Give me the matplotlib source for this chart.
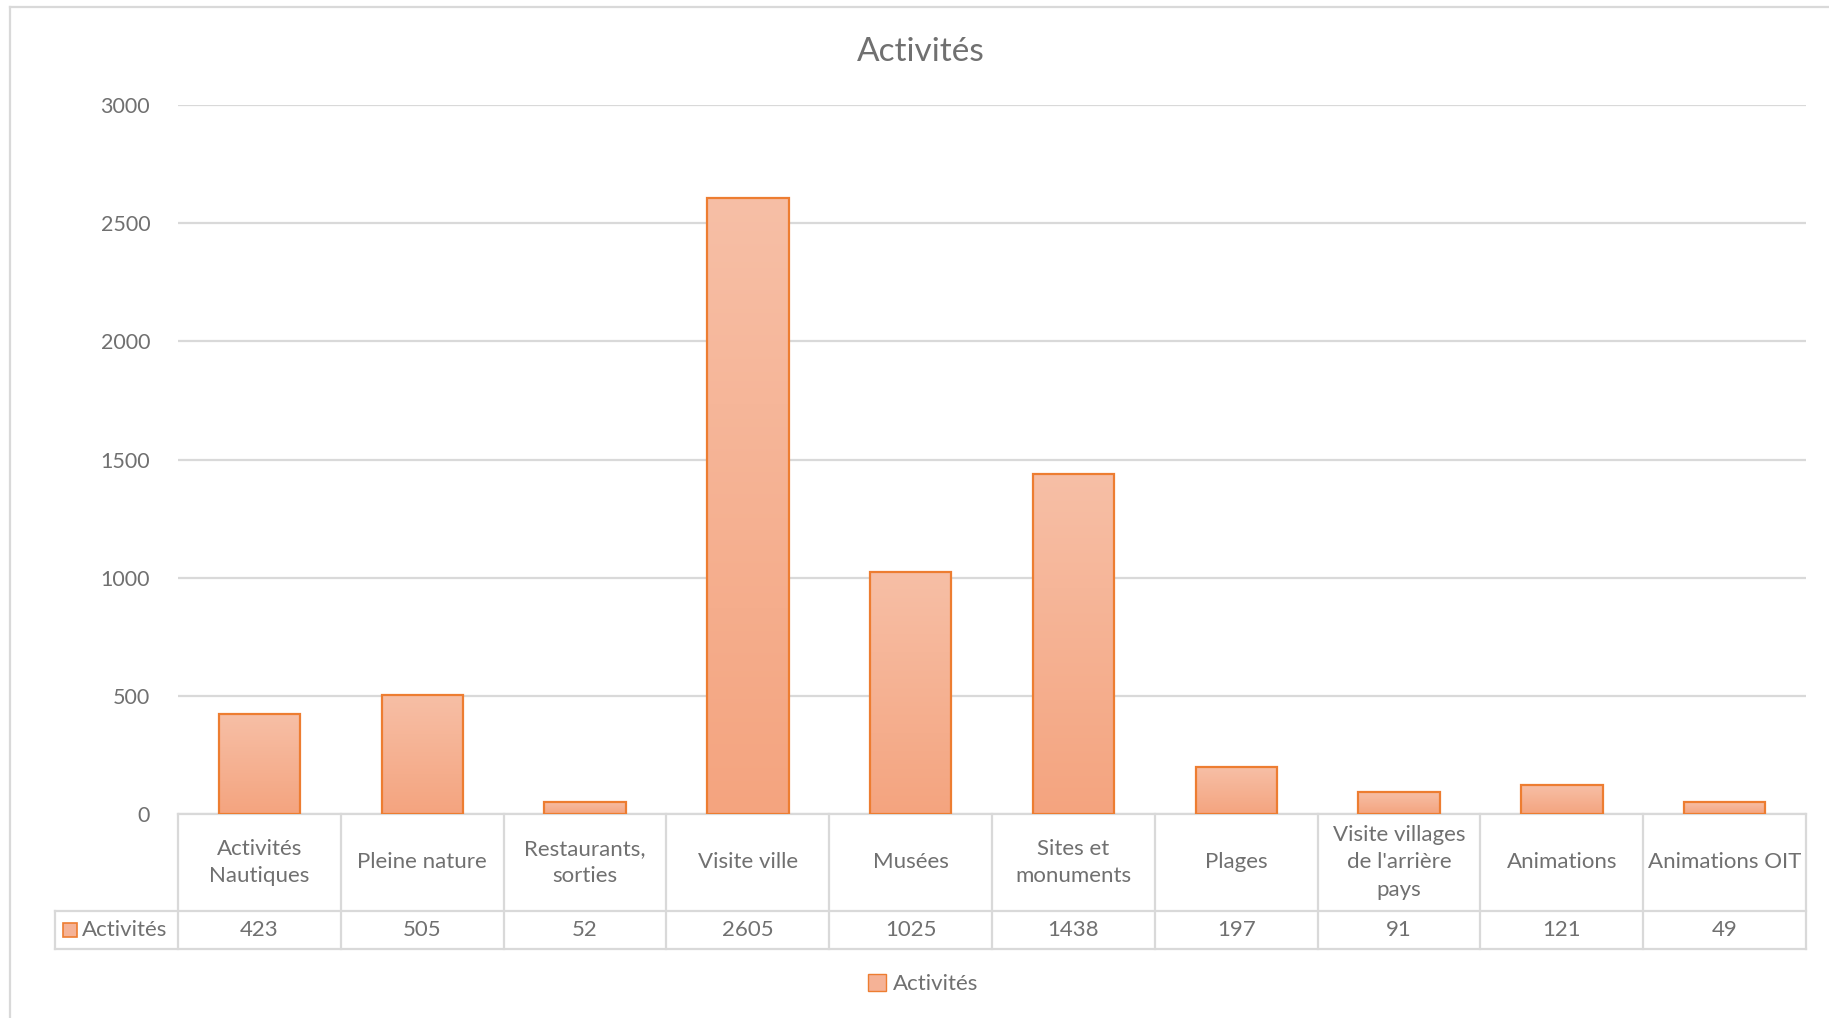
import matplotlib.pyplot as plt
import numpy as np
from matplotlib.lines import Line2D
from matplotlib.patches import Patch
from matplotlib.colors import LinearSegmentedColormap

plt.rcParams['font.family'] = ['Lato', 'DejaVu Sans']

categories = ["Activités\nNautiques", "Pleine nature", "Restaurants,\nsorties",
              "Visite ville", "Musées", "Sites et\nmonuments", "Plages",
              "Visite villages\nde l'arrière\npays", "Animations", "Animations OIT"]
values = [423, 505, 52, 2605, 1025, 1438, 197, 91, 121, 49]
series_name = "Activités"
yticks = [0, 500, 1000, 1500, 2000, 2500, 3000]

text_col = '#707070'
grid_col = '#D9D9D9'
edge_col = '#ED7D31'
grad = LinearSegmentedColormap.from_list('g', ['#F4A47F', '#F7BFA6'])

W, H = 1829, 1018
fig = plt.figure(figsize=(W / 100, H / 100), dpi=100)
ax = fig.add_axes([178 / W, 1 - 814 / H, (1806 - 178) / W, (814 - 105) / H])

x = np.arange(len(values))
bars = ax.bar(x, values, width=0.5, facecolor='none', edgecolor=edge_col,
              linewidth=1.6, zorder=3)
g = np.linspace(0, 1, 256).reshape(-1, 1)
for b in bars:
    x0, y0 = b.get_x(), b.get_y()
    im = ax.imshow(g, cmap=grad, origin='lower', aspect='auto', zorder=2,
                   extent=[x0, x0 + b.get_width(), y0, y0 + b.get_height()])
    im.set_clip_path(b)

ax.set_xlim(-0.5, len(values) - 0.5)
ax.set_ylim(0, 3000)
ax.set_yticks(yticks)
ax.set_yticklabels([str(t) for t in yticks])
ax.tick_params(axis='y', length=0, pad=20, labelsize=15.5, labelcolor=text_col)
ax.set_xticks([])
for s in ax.spines.values():
    s.set_visible(False)
ax.grid(axis='y', color=grid_col, linewidth=1.6, zorder=0)
ax.set_axisbelow(True)

# data table under the axis
tr = ax.get_xaxis_transform()
unit = 162.8  # pixels per category
r1 = -(911 - 814) / 709
r2 = -(949 - 814) / 709
xl = -0.5 - 123 / unit
lk = dict(color=grid_col, linewidth=1.6, transform=tr, clip_on=False, zorder=1)
ax.plot([-0.5, 9.5], [0, 0], **lk)
ax.plot([xl, 9.5], [r1, r1], **lk)
ax.plot([xl, 9.5], [r2, r2], **lk)
ax.plot([xl, xl], [r1, r2], **lk)
for xb in np.arange(-0.5, 10, 1.0):
    ax.plot([xb, xb], [0, r2], **lk)
for i, (c, v) in enumerate(zip(categories, values)):
    ax.text(i, r1 / 2, c, transform=tr, ha='center', va='center', fontsize=16,
            color=text_col, linespacing=1.45)
    ax.text(i, (r1 + r2) / 2, str(v), transform=tr, ha='center', va='center',
            fontsize=16, color=text_col)
ax.text(xl + 27 / unit, (r1 + r2) / 2, series_name, transform=tr, ha='left',
        va='center', fontsize=16, color=text_col)
sq = 14 / 709
ax.add_patch(plt.Rectangle((xl + 8 / unit, (r1 + r2) / 2 - sq / 2), 14 / unit, sq,
                           transform=tr, clip_on=False, facecolor='#F5B296',
                           edgecolor=edge_col, linewidth=1.2))

fig.text(921 / W, 1 - 52 / H, "Activités", ha='center', va='center', fontsize=24,
         color=text_col)

leg = fig.legend(handles=[Patch(facecolor='#F5B296', edgecolor=edge_col, label=series_name)],
                 loc='center', bbox_to_anchor=(923 / W, 1 - 984 / H), frameon=False,
                 fontsize=16, handlelength=0.8, handleheight=0.8, handletextpad=0.3)
for t in leg.get_texts():
    t.set_color(text_col)

# chart frame (top and left edges visible)
fig.add_artist(Line2D([10 / W, 1], [1 - 7 / H, 1 - 7 / H], color=grid_col, linewidth=1.6))
fig.add_artist(Line2D([10 / W, 10 / W], [0, 1 - 7 / H], color=grid_col, linewidth=1.6))

fig.savefig('out.png', dpi=100, facecolor='white')
